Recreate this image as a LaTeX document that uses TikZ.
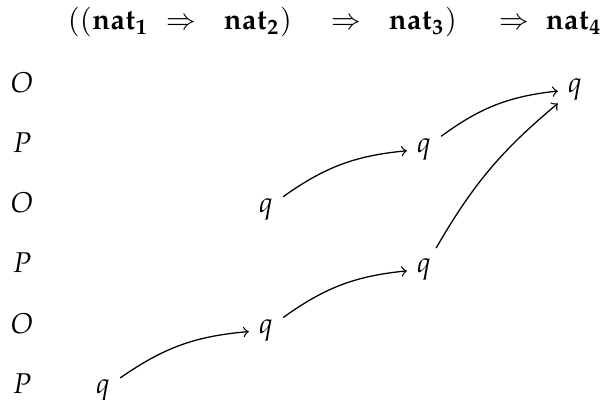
\documentclass[tikz,border=0pt]{standalone}
\usepackage{mathpazo}
\begin{document}
\begin{tikzpicture}[
  x=0.35pt, y=-0.35pt,
  head/.style={anchor=base west, inner sep=0pt},
  player/.style={anchor=base},
  move/.style={anchor=base},
  every path/.style={line width=0.45pt},
  >=to
]
\useasboundingbox (0,0) rectangle (605,399);
% the type
\node[head] (t1) at (67,30) {$((\mathbf{nat}_{\mathbf{1}}$};
\node[head] (i1) at (165,30) {$\Rightarrow$};
\node[head] (t2) at (223,30) {$\mathbf{nat}_{\mathbf{2}})$};
\node[head] (i2) at (330,30) {$\Rightarrow$};
\node[head] (t3) at (388,30) {$\mathbf{nat}_{\mathbf{3}})$};
\node[head] (i3) at (498,30) {$\Rightarrow$};
\node[head] (t4) at (545,30) {$\mathbf{nat}_{\mathbf{4}}$};
% who plays
\node[player] (p1) at (22,92) {$O$};
\node[player] (p2) at (22,152) {$P$};
\node[player] (p3) at (22,212) {$O$};
\node[player] (p4) at (22,272) {$P$};
\node[player] (p5) at (22,333) {$O$};
\node[player] (p6) at (22,393) {$P$};
% the moves
\node[move] (q1) at (103,393) {$q$};
\node[move] (q2) at (266,333) {$q$};
\node[move] (q3) at (266,212) {$q$};
\node[move] (q4) at (424,272) {$q$};
\node[move] (q5) at (424,152) {$q$};
\node[move] (q6) at (575,92) {$q$};
\draw[->] (q1) to[bend left=15] (q2);
\draw[->] (q2) to[bend left=15] (q4);
\draw[->] (q3) to[bend left=15] (q5);
\draw[->] (q5) to[bend left=15] (q6);
\draw[->] (q4) to[bend left=10] (q6);
\end{tikzpicture}
\end{document}
